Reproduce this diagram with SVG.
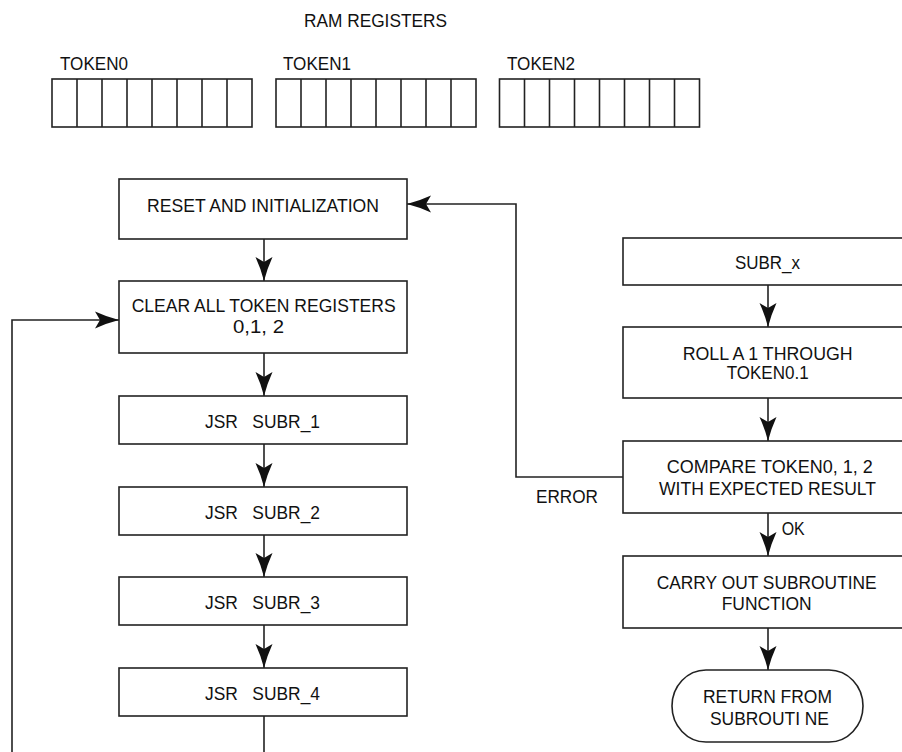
<svg xmlns="http://www.w3.org/2000/svg" width="902" height="752" viewBox="0 0 902 752">
<style>
.b{fill:#fff;stroke:#222;stroke-width:1.6}
.c{fill:none;stroke:#222;stroke-width:1.6}
.t{font-family:"Liberation Sans",Arial,sans-serif;font-size:19px;fill:#111}
.s{font-size:18px}
</style>
<defs>
<marker id="ah" markerUnits="userSpaceOnUse" markerWidth="30" markerHeight="20" viewBox="-26 -10 28 20" refX="0" refY="0" orient="auto">
<path d="M0,0 Q-12,-3 -24,-8.5 L-19,0 L-24,8.5 Q-12,3 0,0 Z" fill="#111"/>
</marker>
</defs>
<rect width="902" height="752" fill="#fff"/>

<g id="ram-registers">
<text class="t" x="304" y="27" textLength="143" lengthAdjust="spacingAndGlyphs">RAM REGISTERS</text>
</g>
<g id="token0">
<text class="t" x="60" y="69.5" textLength="68" lengthAdjust="spacingAndGlyphs">TOKEN0</text>
<rect class="b" x="52" y="79" width="200" height="48"/>
<path class="c" d="M77,79V127M102,79V127M127,79V127M152,79V127M177,79V127M202,79V127M227,79V127"/>
</g>
<g id="token1">
<text class="t" x="283" y="69.5" textLength="68" lengthAdjust="spacingAndGlyphs">TOKEN1</text>
<rect class="b" x="276" y="79" width="200" height="48"/>
<path class="c" d="M301,79V127M326,79V127M351,79V127M376,79V127M401,79V127M426,79V127M451,79V127"/>
</g>
<g id="token2">
<text class="t" x="507" y="69.5" textLength="68" lengthAdjust="spacingAndGlyphs">TOKEN2</text>
<rect class="b" x="499.5" y="79" width="200" height="48"/>
<path class="c" d="M524.5,79V127M549.5,79V127M574.5,79V127M599.5,79V127M624.5,79V127M649.5,79V127M674.5,79V127"/>
</g>

<g id="connectors">
<path class="c" d="M264,239V281" marker-end="url(#ah)"/>
<path class="c" d="M264,353V396" marker-end="url(#ah)"/>
<path class="c" d="M264,444V487" marker-end="url(#ah)"/>
<path class="c" d="M264,535V577" marker-end="url(#ah)"/>
<path class="c" d="M264,625V668" marker-end="url(#ah)"/>
<path class="c" d="M264,716V770H12V320H119" marker-end="url(#ah)"/>
<path class="c" d="M768,285V327" marker-end="url(#ah)"/>
<path class="c" d="M768,398V441" marker-end="url(#ah)"/>
<path class="c" d="M768,513V556" marker-end="url(#ah)"/>
<path class="c" d="M768,628V670" marker-end="url(#ah)"/>
<path class="c" d="M623,477H516V204H407" marker-end="url(#ah)"/>
<text class="t" x="536" y="502.7" textLength="62" lengthAdjust="spacingAndGlyphs">ERROR</text>
<text class="t" x="781.7" y="535" textLength="23" lengthAdjust="spacingAndGlyphs">OK</text>
</g>

<g id="reset">
<rect class="b" x="119" y="179" width="288" height="60"/>
<text class="t" x="147" y="212" textLength="232" lengthAdjust="spacingAndGlyphs">RESET AND INITIALIZATION</text>
</g>
<g id="clear">
<rect class="b" x="119" y="281" width="288" height="72"/>
<text class="t s" x="131.7" y="312" textLength="264" lengthAdjust="spacingAndGlyphs">CLEAR ALL TOKEN REGISTERS</text>
<text class="t s" x="233" y="333" textLength="51" lengthAdjust="spacingAndGlyphs">0,1, 2</text>
</g>
<g id="jsr1">
<rect class="b" x="119" y="396" width="288" height="48"/>
<text class="t" x="205" y="428" textLength="115" lengthAdjust="spacingAndGlyphs" xml:space="preserve">JSR   SUBR_1</text>
</g>
<g id="jsr2">
<rect class="b" x="119" y="487" width="288" height="48"/>
<text class="t" x="205" y="518.5" textLength="115" lengthAdjust="spacingAndGlyphs" xml:space="preserve">JSR   SUBR_2</text>
</g>
<g id="jsr3">
<rect class="b" x="119" y="577" width="288" height="48"/>
<text class="t" x="205" y="609" textLength="115" lengthAdjust="spacingAndGlyphs" xml:space="preserve">JSR   SUBR_3</text>
</g>
<g id="jsr4">
<rect class="b" x="119" y="668" width="288" height="48"/>
<text class="t" x="205" y="700" textLength="115" lengthAdjust="spacingAndGlyphs" xml:space="preserve">JSR   SUBR_4</text>
</g>

<g id="subr-x">
<rect class="b" x="623" y="238" width="290" height="47"/>
<text class="t" x="735" y="269" textLength="65" lengthAdjust="spacingAndGlyphs">SUBR_x</text>
</g>
<g id="roll">
<rect class="b" x="623" y="327" width="290" height="71"/>
<text class="t" x="682.7" y="360" textLength="170" lengthAdjust="spacingAndGlyphs">ROLL A 1 THROUGH</text>
<text class="t" x="726.7" y="379" textLength="82" lengthAdjust="spacingAndGlyphs">TOKEN0.1</text>
</g>
<g id="compare">
<rect class="b" x="623" y="441" width="290" height="72"/>
<text class="t" x="666.7" y="473.3" textLength="206" lengthAdjust="spacingAndGlyphs">COMPARE TOKEN0, 1, 2</text>
<text class="t" x="659" y="495" textLength="217" lengthAdjust="spacingAndGlyphs">WITH EXPECTED RESULT</text>
</g>
<g id="carry">
<rect class="b" x="623" y="556" width="290" height="72"/>
<text class="t" x="656.7" y="589.3" textLength="220" lengthAdjust="spacingAndGlyphs">CARRY OUT SUBROUTINE</text>
<text class="t" x="721.7" y="610" textLength="90" lengthAdjust="spacingAndGlyphs">FUNCTION</text>
</g>
<g id="return">
<rect class="b" x="672" y="670" width="191" height="72" rx="34" ry="36"/>
<text class="t" x="703" y="702.7" textLength="129" lengthAdjust="spacingAndGlyphs">RETURN FROM</text>
<text class="t" x="710" y="725" textLength="119" lengthAdjust="spacingAndGlyphs" xml:space="preserve">SUBROUTI NE</text>
</g>
</svg>
